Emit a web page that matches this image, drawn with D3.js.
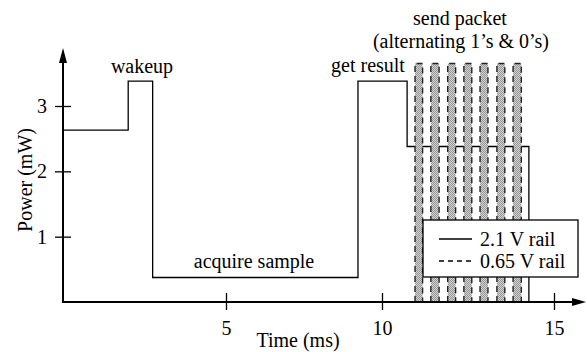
<!DOCTYPE html>
<head>
  <meta charset="utf-8">
  <script src="https://d3js.org/d3.v7.min.js"></script>
  <style>
    body { margin: 0; background: #fff; }
    text {
      font-family: "Liberation Serif", "Times New Roman", serif;
      font-size: 20px;
      fill: #000;
    }
  </style>
</head>

<body>
  <script>
  // 2.1 V rail: step trace, value holds from each time until the next
  var railTimes = [0, 2.0, 2.75, 9.23, 10.73, 14.27],
      railPower = [2.63, 3.38, 0.375, 3.38, 2.38, 0];

  // 0.65 V rail: pulses while the packet is sent
  var pulseStart = [10.96, 11.42, 11.91, 12.38, 12.85, 13.34, 13.81],
      pulseEnd   = [11.18, 11.66, 12.14, 12.61, 13.08, 13.57, 14.05],
      pulseHigh  = 3.65;

  var xTicks = [5, 10, 15],
      yTicks = [1, 2, 3];

  var width = 587, height = 352;

  var svg = d3.select("body").append("svg")
      .attr("width", width)
      .attr("height", height);

  // the original drawing is not quite uniform along x, so the scale is piecewise
  var x = d3.scaleLinear()
      .domain([0, 5, 10, 15])
      .range([63, 226, 382, 554]);

  var y = d3.scaleLinear()
      .domain([0, 3])
      .range([302, 106]);

  var defs = svg.append("defs");
  var pat = defs.append("pattern")
      .attr("id", "checker")
      .attr("width", 2).attr("height", 2)
      .attr("patternUnits", "userSpaceOnUse");
  pat.append("rect").attr("width", 2).attr("height", 2).attr("fill", "#d2d2d2");
  pat.append("rect").attr("width", 1).attr("height", 1).attr("fill", "#969696");
  pat.append("rect").attr("x", 1).attr("y", 1).attr("width", 1).attr("height", 1).attr("fill", "#969696");

  var railData = railTimes.map(function(t, i) { return {t: t, p: railPower[i]}; });

  var line = d3.line()
      .x(function(d) { return x(d.t); })
      .y(function(d) { return y(d.p); })
      .curve(d3.curveStepAfter);

  svg.append("path")
      .datum(railData)
      .attr("fill", "none")
      .attr("stroke", "#000")
      .attr("stroke-width", 1.3)
      .attr("d", line);

  var pulses = pulseStart.map(function(s, i) { return {s: s, e: pulseEnd[i]}; });

  var pg = svg.append("g").selectAll("g")
      .data(pulses)
      .enter().append("g");

  pg.append("rect")
      .attr("x", function(d) { return x(d.s); })
      .attr("y", y(pulseHigh))
      .attr("width", function(d) { return x(d.e) - x(d.s); })
      .attr("height", y(0) - y(pulseHigh))
      .attr("fill", "url(#checker)");

  pg.append("path")
      .attr("fill", "none")
      .attr("stroke", "#222")
      .attr("stroke-width", 1.4)
      .attr("stroke-dasharray", "6,4")
      .attr("d", function(d) {
        return "M" + x(d.s) + "," + y(0) + "V" + y(pulseHigh) +
               "H" + x(d.e) + "V" + y(0);
      });

  // axes
  var xAxis = svg.append("g")
      .attr("transform", "translate(0," + y(0) + ")")
      .call(d3.axisBottom(x).tickValues(xTicks).tickSize(8).tickFormat(d3.format("d")));
  xAxis.select(".domain").remove();
  xAxis.selectAll("line").attr("y1", -9).attr("stroke-width", 1.3);
  xAxis.selectAll("text")
      .attr("y", 33).attr("dy", 0)
      .style("font-size", "20px")
      .style("font-family", "Liberation Serif");

  var yAxis = svg.append("g")
      .attr("transform", "translate(" + x(0) + ",0)")
      .call(d3.axisLeft(y).tickValues(yTicks).tickSize(8).tickFormat(d3.format("d")));
  yAxis.select(".domain").remove();
  yAxis.selectAll("line").attr("x1", 8).attr("stroke-width", 1.3);
  yAxis.selectAll("text")
      .attr("x", -16)
      .style("font-size", "20px")
      .style("font-family", "Liberation Serif");

  svg.append("line")
      .attr("x1", x(0)).attr("x2", 574)
      .attr("y1", y(0)).attr("y2", y(0))
      .attr("stroke", "#000").attr("stroke-width", 2);
  svg.append("path")
      .attr("d", "M586," + y(0) + "L572," + (y(0) - 4) + "L572," + (y(0) + 4) + "Z");

  svg.append("line")
      .attr("x1", x(0)).attr("x2", x(0))
      .attr("y1", y(0) + 1).attr("y2", 60)
      .attr("stroke", "#000").attr("stroke-width", 2);
  svg.append("path")
      .attr("d", "M" + x(0) + ",48L" + (x(0) - 4) + ",63L" + (x(0) + 4) + ",63Z");

  // axis titles
  svg.append("text")
      .attr("x", 298).attr("y", 347)
      .attr("text-anchor", "middle")
      .text("Time (ms)");

  svg.append("text")
      .attr("transform", "translate(32,180)rotate(-90)")
      .attr("text-anchor", "middle")
      .text("Power (mW)");

  // annotations
  var notes = [
    {text: "wakeup", x: 142, y: 73},
    {text: "get result", x: 368, y: 72},
    {text: "send packet", x: 460, y: 25},
    {text: "(alternating 1\u2019s & 0\u2019s)", x: 461, y: 48},
    {text: "acquire sample", x: 254, y: 268}
  ];
  svg.append("g").selectAll("text")
      .data(notes)
      .enter().append("text")
      .attr("x", function(d) { return d.x; })
      .attr("y", function(d) { return d.y; })
      .attr("text-anchor", "middle")
      .text(function(d) { return d.text; });

  // legend
  var legend = svg.append("g").attr("transform", "translate(423,220)");
  legend.append("rect")
      .attr("width", 155).attr("height", 57)
      .attr("fill", "#fff")
      .attr("stroke", "#000").attr("stroke-width", 1.3);
  legend.append("line")
      .attr("x1", 16).attr("x2", 49).attr("y1", 19).attr("y2", 19)
      .attr("stroke", "#000").attr("stroke-width", 1.3);
  legend.append("line")
      .attr("x1", 16).attr("x2", 49).attr("y1", 41).attr("y2", 41)
      .attr("stroke", "#000").attr("stroke-width", 1.3)
      .attr("stroke-dasharray", "5,4");
  legend.append("text").attr("x", 57).attr("y", 26).text("2.1 V rail");
  legend.append("text").attr("x", 57).attr("y", 48).text("0.65 V rail");
  </script>
</body>
